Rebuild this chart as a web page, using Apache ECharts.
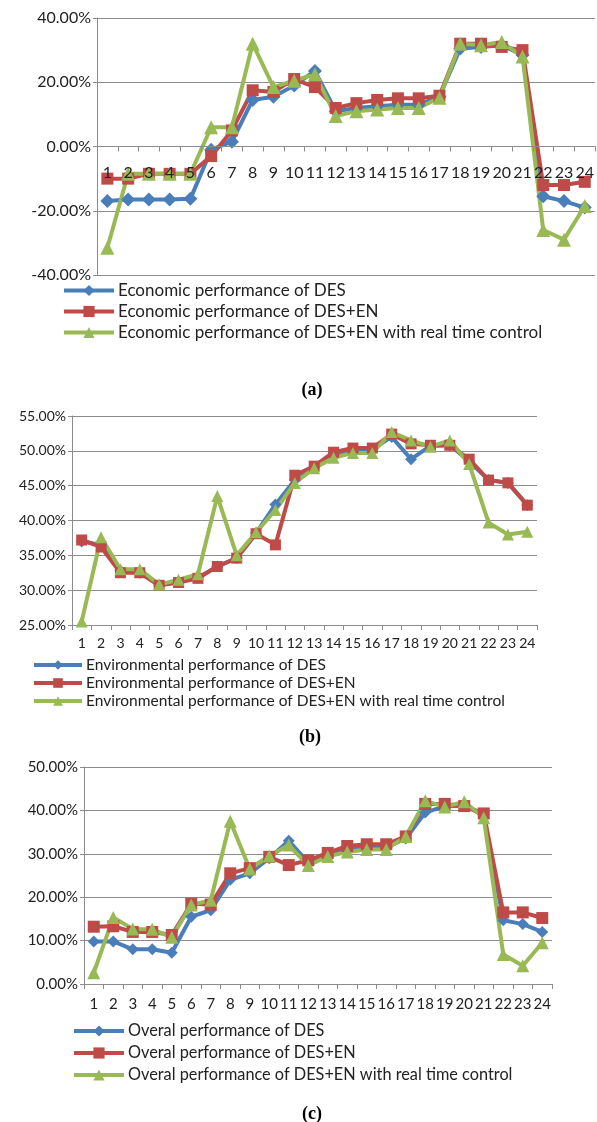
<!DOCTYPE html>
<html>
<head>
<meta charset="utf-8">
<script src="https://cdn.jsdelivr.net/npm/echarts@6/dist/echarts.min.js"></script>
<style>
  html, body { margin: 0; padding: 0; background: #fff; }
  #main { width: 597px; height: 1122px; }
</style>
</head>
<body>
<div id="main"></div>
<script>
// hours 1..24
var hours = ['1', '2', '3', '4', '5', '6', '7', '8', '9', '10', '11', '12',
  '13', '14', '15', '16', '17', '18', '19', '20', '21', '22', '23', '24'];

// (a) economic performance, %
var econDES = [-17, -16.5, -16.5, -16.5, -16.3, -1, 1.5, 14.5, 15.5, 19, 23.5, 11,
  12, 12.5, 13, 13, 15.5, 30.5, 31, 31.5, 28.5, -15.5, -17, -19];
var econDESEN = [-10, -10, -8.5, -8.5, -8.5, -3, 5, 17.5, 17, 21, 18.5, 12,
  13.5, 14.5, 15, 15, 15.8, 32, 32, 31, 30, -12, -12, -11];
var econRT = [-31.5, -8.5, -8.5, -8.5, -8.5, 6, 6, 32, 18.5, 20.5, 22.5, 9.5,
  11, 11.5, 12, 12, 15.2, 32, 31.5, 32.5, 28, -26, -29, -18.5];

// (b) environmental performance, %
var envDES = [37, 36.5, 32.8, 32.5, 30.7, 31.2, 31.8, 33.4, 34.6, 38.2, 42.3, 45.8,
  47.6, 49.5, 50.2, 50.2, 52, 48.8, 50.7, 50.8, 48.5, 45.8, 45.4, 42.2];
var envDESEN = [37.2, 36.2, 32.5, 32.5, 30.7, 31.1, 31.7, 33.4, 34.6, 38.1, 36.5, 46.5,
  47.8, 49.8, 50.4, 50.4, 52.4, 51, 50.8, 50.8, 48.8, 45.8, 45.4, 42.2];
var envRT = [25.5, 37.6, 33, 33, 30.8, 31.5, 32.3, 43.5, 35, 38.3, 41.5, 45.4,
  47.5, 49, 49.7, 49.7, 52.7, 51.5, 50.6, 51.5, 48.1, 39.7, 38, 38.4];

// (c) overall performance, %
var overDES = [9.8, 9.8, 8, 8, 7.2, 15.5, 17, 24, 25.5, 29, 33, 28,
  29.5, 31, 31.5, 31.5, 33.5, 39.5, 41, 41, 39, 14.7, 13.8, 12];
var overDESEN = [13.2, 13.3, 12, 12, 11.3, 18.5, 18.3, 25.5, 26.7, 29.3, 27.4, 28.5,
  30.2, 31.8, 32.2, 32.2, 34, 41.5, 41.5, 41, 39.3, 16.5, 16.5, 15.2];
var overRT = [2.6, 15.3, 12.7, 12.6, 10.8, 18.2, 19.3, 37.5, 26.5, 29.5, 32, 27.3,
  29.4, 30.4, 31, 31, 34, 42.2, 40.8, 42, 38.3, 6.8, 4.2, 9.5];

var blue = '#4A7EBB', red = '#BE4B48', green = '#98B954';
var font = 'Lato';
var gridColor = '#8c8c8c';

function pct(v) { return v.toFixed(2) + '%'; }

// offset moves the category axis up to the 0 line in panel (a)
function xAxisFor(idx, fs, margin, offset, z) {
  return {
    type: 'category', gridIndex: idx, data: hours, boundaryGap: true, offset: offset, z: z,
    axisLine: { show: true, onZero: false, lineStyle: { color: gridColor, width: 1 } },
    axisTick: { show: true, length: 5, lineStyle: { color: gridColor } },
    axisLabel: { color: '#222', fontFamily: font, fontSize: fs, margin: margin, interval: 0 },
    splitLine: { show: false }
  };
}

function yAxisFor(idx, min, max, step, fs) {
  return {
    type: 'value', gridIndex: idx, min: min, max: max, interval: step,
    axisLine: { show: true, lineStyle: { color: gridColor } },
    axisTick: { show: true, length: 4, lineStyle: { color: gridColor } },
    axisLabel: { color: '#222', fontFamily: font, fontSize: fs, margin: 6, formatter: pct },
    splitLine: { lineStyle: { color: gridColor, width: 1 } }
  };
}

function line(name, idx, data, color, symbol, size) {
  return {
    name: name, type: 'line', xAxisIndex: idx, yAxisIndex: idx, data: data,
    symbol: symbol, symbolSize: size, showSymbol: true,
    lineStyle: { color: color, width: 4 },
    itemStyle: { color: color },
    emphasis: { disabled: true }, animation: false
  };
}

var namesA = ['Economic performance of DES', 'Economic performance of DES+EN',
  'Economic performance of DES+EN with real time control'];
var namesB = ['Environmental performance of DES', 'Environmental performance of DES+EN',
  'Environmental performance of DES+EN with real time control'];
var namesC = ['Overal performance of DES', 'Overal performance of DES+EN',
  'Overal performance of DES+EN with real time control'];

function legendFor(names, left, top, w, h, gap, fs) {
  return {
    orient: 'vertical', left: left, top: top, itemWidth: w, itemHeight: h, itemGap: gap,
    data: names, selectedMode: false, padding: 0,
    lineStyle: { width: 4 },
    textStyle: { color: '#222', fontFamily: font, fontSize: fs, padding: [0, 0, 0, -1] }
  };
}

var chart = echarts.init(document.getElementById('main'));
var option = {
  backgroundColor: '#fff',
  animation: false,
  title: [
    { text: '(a)', left: 307, top: 376, textAlign: 'center', textStyle: { fontFamily: 'Liberation Serif', fontWeight: 'bold', fontSize: 18, color: '#000' } },
    { text: '(b)', left: 305, top: 723, textAlign: 'center', textStyle: { fontFamily: 'Liberation Serif', fontWeight: 'bold', fontSize: 18, color: '#000' } },
    { text: '(c)', left: 307, top: 1100, textAlign: 'center', textStyle: { fontFamily: 'Liberation Serif', fontWeight: 'bold', fontSize: 18, color: '#000' } }
  ],
  grid: [
    { left: 97, top: 18, width: 500, height: 257 },
    { left: 72, top: 416, width: 465, height: 209 },
    { left: 84, top: 767, width: 468, height: 217 }
  ],
  legend: [
    legendFor(namesA, 62, 282, 50, 14, 4, 17),
    legendFor(namesB, 32, 657, 48, 12, 2, 15.5),
    legendFor(namesC, 72, 1023, 50, 14, 6, 16.3)
  ],
  xAxis: [xAxisFor(0, 16, 18, -128.5, 5), xAxisFor(1, 14, 11, 0, 0), xAxisFor(2, 15, 13, 0, 0)],
  yAxis: [yAxisFor(0, -40, 40, 20, 16), yAxisFor(1, 25, 55, 5, 14), yAxisFor(2, 0, 50, 10, 15)],
  series: [
    line(namesA[0], 0, econDES, blue, 'diamond', 14),
    line(namesA[1], 0, econDESEN, red, 'rect', 12),
    line(namesA[2], 0, econRT, green, 'triangle', 14),
    line(namesB[0], 1, envDES, blue, 'diamond', 12),
    line(namesB[1], 1, envDESEN, red, 'rect', 11),
    line(namesB[2], 1, envRT, green, 'triangle', 12),
    line(namesC[0], 2, overDES, blue, 'diamond', 12),
    line(namesC[1], 2, overDESEN, red, 'rect', 12),
    line(namesC[2], 2, overRT, green, 'triangle', 13)
  ]
};
chart.setOption(option);
</script>
</body>
</html>
